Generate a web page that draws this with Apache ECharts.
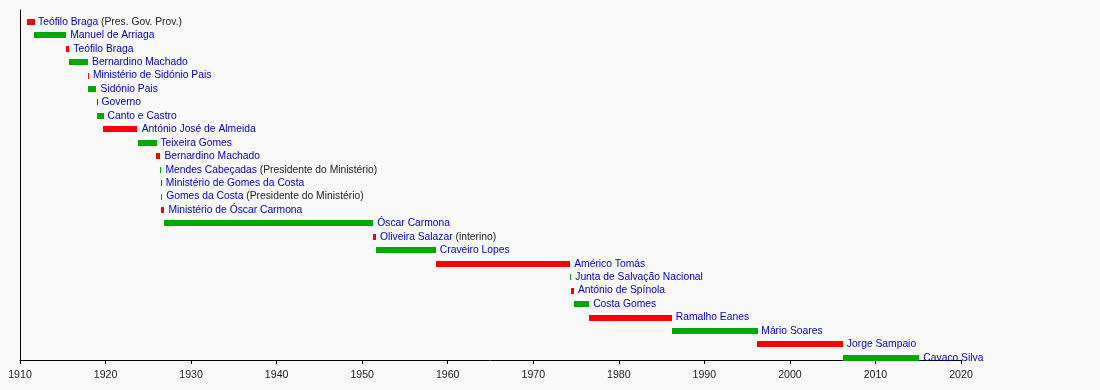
<!DOCTYPE html>
<html><head><meta charset="utf-8">
<script src="https://cdn.jsdelivr.net/npm/echarts@6/dist/echarts.min.js"></script>
<style>html,body{margin:0;padding:0;background:#f9f9f9;}#c{width:1100px;height:390px;}</style>
</head><body><div id="c"></div>
<script>
const names = ["Teófilo Braga","Manuel de Arriaga","Teófilo Braga","Bernardino Machado","Ministério de Sidónio Pais","Sidónio Pais","Governo","Canto e Castro","António José de Almeida","Teixeira Gomes","Bernardino Machado","Mendes Cabeçadas","Ministério de Gomes da Costa","Gomes da Costa","Ministério de Óscar Carmona","Óscar Carmona","Oliveira Salazar","Craveiro Lopes","Américo Tomás","Junta de Salvação Nacional","António de Spínola","Costa Gomes","Ramalho Eanes","Mário Soares","Jorge Sampaio","Cavaco Silva"];
const notes = ["(Pres. Gov. Prov.)","","","","","","","","","","","(Presidente do Ministério)","","(Presidente do Ministério)","","","(interino)","","","","","","","","",""];
const starts = [1910.76,1911.65,1915.41,1915.76,1917.94,1917.99,1918.95,1918.96,1919.76,1923.76,1925.95,1926.41,1926.46,1926.50,1926.52,1926.88,1951.30,1951.61,1958.61,1974.32,1974.37,1974.75,1976.53,1986.19,1996.19,2006.19];
const ends   = [1911.65,1915.41,1915.76,1917.95,1917.99,1918.95,1918.96,1919.76,1923.76,1925.95,1926.41,1926.46,1926.50,1926.52,1926.88,1951.30,1951.61,1958.61,1974.32,1974.37,1974.75,1976.53,1986.19,1996.19,2006.19,2015.13];
const yearTicks = [1910,1920,1930,1940,1950,1960,1970,1980,1990,2000,2010,2020];

const FONT = '"Liberation Sans", Arial, Helvetica, sans-serif';
const data = names.map((n,i)=>[starts[i], ends[i], i]);
const chart = echarts.init(document.getElementById('c'), null, {renderer:'canvas'});
chart.setOption({
  backgroundColor:'#f9f9f9',
  animation:false,
  grid:{left:20, right:139, top:10, bottom:30},
  xAxis:{type:'value', min:yearTicks[0], max:yearTicks[yearTicks.length-1], interval:10,
    axisLine:{show:true, onZero:false, lineStyle:{color:'#000', width:1}},
    axisTick:{show:true, length:4, lineStyle:{color:'#000'}},
    splitLine:{show:false},
    axisLabel:{fontSize:10.6, color:'#222', fontFamily:FONT, margin:10, formatter:function(v){return String(v);}}},
  yAxis:{type:'value', inverse:true, min:-0.88, max:25.16,
    axisLine:{show:true, onZero:false, lineStyle:{color:'#000', width:1}},
    axisTick:{show:false}, axisLabel:{show:false}, splitLine:{show:false}},
  series:[{
    type:'custom', clip:false,
    data:data,
    encode:{x:[0,1], y:2},
    renderItem:function(params, api){
      const i = api.value(2);
      const p0 = api.coord([api.value(0), i]);
      const p1 = api.coord([api.value(1), i]);
      let w = p1[0]-p0[0];
      if (w < 1) w = 1;
      const h = 6;
      const col = (i % 2 === 0) ? '#ff0000' : '#00aa00';
      const nm = names[i], nt = notes[i];
      const txt = '{n|' + nm + '}' + (nt ? ' {g|' + nt + '}' : '');
      return {type:'group', children:[
        {type:'rect', shape:{x:Math.round(p0[0]), y:Math.round(p0[1]-h/2), width:Math.max(1,Math.round(w)), height:h}, style:{fill:col}},
        {type:'text', x:p0[0]+w+4, y:p0[1], style:{text:txt, verticalAlign:'middle', align:'left',
          font:'10.3px ' + FONT,
          rich:{n:{fill:'#0000cc', fontSize:10.3, fontFamily:FONT}, g:{fill:'#222', fontSize:10.3, fontFamily:FONT}}}}
      ]};
    }
  }]
});
</script></body></html>
